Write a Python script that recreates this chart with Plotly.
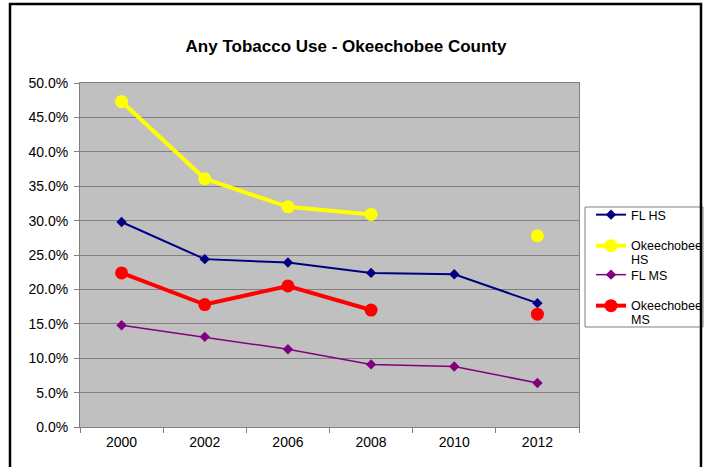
import plotly.graph_objects as go

# Survey years and tobacco-use rates (fractions)
years = ["2000", "2002", "2006", "2008", "2010", "2012"]
fl_hs = [0.298, 0.244, 0.239, 0.224, 0.222, 0.180]
okee_hs = [0.473, 0.361, 0.320, 0.309, None, 0.278]
fl_ms = [0.148, 0.131, 0.113, 0.091, 0.088, 0.064]
okee_ms = [0.224, 0.178, 0.205, 0.170, None, 0.164]

W, H = 707, 467
L, R, T, B = 80, 579, 83, 427  # plot-area edges in pixels


def px_x(x):
    return (x - L) / (R - L)


def px_y(y):
    return (B - y) / (B - T)


FONT = "Liberation Sans, Arial, sans-serif"


def big(*lines):
    # legend label lines at 12.5px, line spacing driven by the 11px legend font
    return "<br>".join(f"<span style='font-size:12.5px'>{s}</span>" for s in lines)


fig = go.Figure()
fig.add_trace(go.Scatter(
    x=years, y=fl_hs, name=big("FL HS"), mode="lines+markers",
    line=dict(color="#000080", width=2),
    marker=dict(symbol="diamond", size=8, color="#000080"),
    legend="legend"))
fig.add_trace(go.Scatter(
    x=years, y=okee_hs, name=big("Okeechobee", "HS"), mode="lines+markers",
    line=dict(color="#FFFF00", width=4),
    marker=dict(symbol="circle", size=13, color="#FFFF00"),
    connectgaps=False, legend="legend2"))
fig.add_trace(go.Scatter(
    x=years, y=fl_ms, name=big("FL MS"), mode="lines+markers",
    line=dict(color="#800080", width=1.5),
    marker=dict(symbol="diamond", size=8, color="#800080"),
    legend="legend3"))
fig.add_trace(go.Scatter(
    x=years, y=okee_ms, name=big("Okeechobee", "MS"), mode="lines+markers",
    line=dict(color="#FF0000", width=4),
    marker=dict(symbol="circle", size=13, color="#FF0000"),
    connectgaps=False, legend="legend4"))

LEG_X = 591


def legend_at(y_px):
    return dict(
        x=LEG_X / W, y=(H - y_px) / H, xref="container", yref="container",
        xanchor="left", yanchor="top",
        bgcolor="rgba(0,0,0,0)", borderwidth=0, valign="top",
        font=dict(family=FONT, size=11, color="#000000"),
        itemwidth=30, tracegroupgap=0)


fig.update_layout(
    width=W, height=H,
    showlegend=True,
    margin=dict(l=L, r=W - R, t=T, b=H - B, pad=0),
    paper_bgcolor="#FFFFFF",
    plot_bgcolor="#C0C0C0",
    title=dict(
        text="<b>Any Tobacco Use - Okeechobee County</b>",
        font=dict(family=FONT, size=17, color="#000000"),
        x=346 / W, xanchor="center", xref="container",
        y=(H - 46) / H, yanchor="middle", yref="container"),
    legend=legend_at(201),
    legend2=legend_at(232),
    legend3=legend_at(261),
    legend4=legend_at(292),
    xaxis=dict(
        type="category", range=[-0.5, 5.5],
        showgrid=False, zeroline=False,
        showline=True, linecolor="#808080", linewidth=1, mirror=True,
        ticks="outside", tickson="boundaries", ticklen=5, tickcolor="#808080",
        ticklabelstandoff=2,
        tickfont=dict(family=FONT, size=14, color="#000000")),
    yaxis=dict(
        range=[0, 0.5], dtick=0.05, tickformat=".1%",
        showgrid=True, gridcolor="#808080", gridwidth=1, zeroline=False,
        showline=True, linecolor="#808080", linewidth=1, mirror=True,
        ticks="outside", ticklen=5, tickcolor="#808080",
        ticklabelstandoff=3,
        tickfont=dict(family=FONT, size=14, color="#000000")),
    shapes=[
        # legend box
        dict(type="rect", xref="paper", yref="paper",
             x0=px_x(585), x1=px_x(703), y0=px_y(327), y1=px_y(207),
             line=dict(color="#808080", width=1), fillcolor="#FFFFFF",
             layer="above"),
        # outer chart frame
        dict(type="rect", xref="paper", yref="paper",
             x0=px_x(10), x1=px_x(701), y0=px_y(485), y1=px_y(4),
             line=dict(color="#000000", width=2.5), fillcolor="rgba(0,0,0,0)",
             layer="above"),
    ],
)

fig.write_html("out.html")
